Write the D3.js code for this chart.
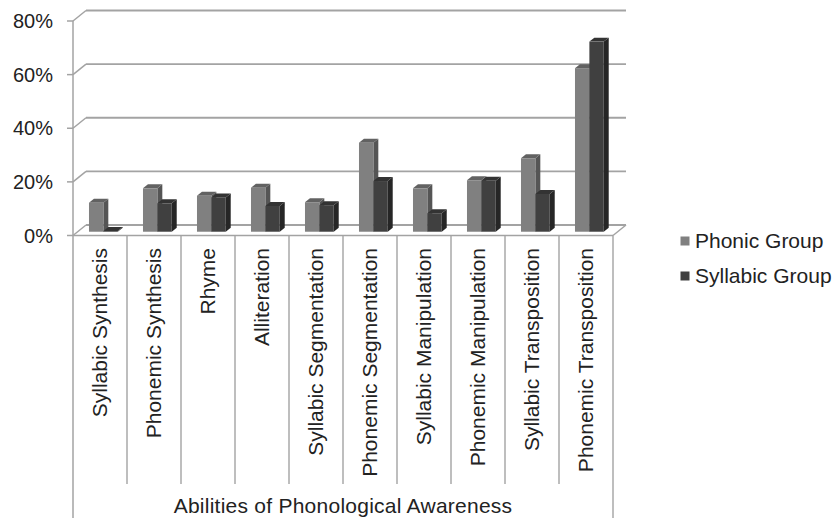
<!DOCTYPE html>
<html>
<head>
<meta charset="utf-8">
<script src="https://cdn.jsdelivr.net/npm/d3@7"></script>
<style>
  html, body { margin: 0; padding: 0; background: #fff; }
  svg { display: block; font-family: "Liberation Sans", Arial, sans-serif; }
</style>
</head>
<body>
<svg id="chart" width="834" height="518"></svg>
<script>
// Abilities of phonological awareness, share of each group (%)
const categories = [
  "Syllabic Synthesis", "Phonemic Synthesis", "Rhyme", "Alliteration",
  "Syllabic Segmentation", "Phonemic Segmentation", "Syllabic Manipulation",
  "Phonemic Manipulation", "Syllabic Transposition", "Phonemic Transposition"
];
const seriesNames = ["Phonic Group", "Syllabic Group"];
const phonicValues   = [10.8, 16.2, 13.4, 16.4, 11.0, 33.2, 16.2, 19.2, 27.4, 61.0];
const syllabicValues = [0,    10.6, 12.8,  9.6,  9.9, 18.9,  6.9, 19.0, 14.1, 70.9];
const yTicks = [0, 20, 40, 60, 80];
const axisTitle = "Abilities of Phonological Awareness";

const seriesValues = [phonicValues, syllabicValues];

// face colours per series: front, top, side
const faceColors = [
  { front: "#808080", top: "#626262", side: "#555555" },
  { front: "#404040", top: "#333333", side: "#262626" }
];

const svg = d3.select("#chart");

// plot frame (front plane) and oblique depth offset
const left = 73, right = 613;
const DX = 13, DY = -10.5;

const x = d3.scaleBand().domain(categories).range([left, right]).paddingInner(0).paddingOuter(0);
const y = d3.scaleLinear().domain([0, 80]).range([235.5, 21]);
const xs = d3.scaleBand().domain(seriesNames).range([0, 28.8]);

const gridColor = "#a3a3a3";
const g = svg.append("g");

// back wall gridlines with their diagonal connectors to the value axis
yTicks.forEach(t => {
  const yy = y(t);
  g.append("line")
    .attr("x1", left + DX).attr("x2", right + DX)
    .attr("y1", yy + DY).attr("y2", yy + DY)
    .attr("stroke", gridColor).attr("stroke-width", 1.8);
  g.append("line")
    .attr("x1", left).attr("y1", yy)
    .attr("x2", left + DX).attr("y2", yy + DY)
    .attr("stroke", gridColor).attr("stroke-width", 1.5);
  // tick mark
  g.append("line")
    .attr("x1", left - 6).attr("x2", left)
    .attr("y1", yy).attr("y2", yy)
    .attr("stroke", gridColor).attr("stroke-width", 1.5);
  // tick label
  g.append("text")
    .attr("x", 53).attr("y", yy).attr("dy", "0.35em")
    .attr("text-anchor", "end")
    .attr("font-size", 20).attr("fill", "#222")
    .text(t + "%");
});

// floor: front edge and right side
g.append("line")
  .attr("x1", left).attr("x2", right)
  .attr("y1", y(0)).attr("y2", y(0))
  .attr("stroke", gridColor).attr("stroke-width", 1.5);
g.append("line")
  .attr("x1", right).attr("y1", y(0))
  .attr("x2", right + DX).attr("y2", y(0) + DY)
  .attr("stroke", gridColor).attr("stroke-width", 1.5);

// value axis line, continuing down as the left border of the category table
g.append("line")
  .attr("x1", left).attr("x2", left)
  .attr("y1", y(80)).attr("y2", 518)
  .attr("stroke", gridColor).attr("stroke-width", 1.5);

// category table: dividers and right border
categories.forEach((c, i) => {
  const xe = x(c) + x.bandwidth();
  g.append("line")
    .attr("x1", xe).attr("x2", xe)
    .attr("y1", y(0)).attr("y2", i === categories.length - 1 ? 518 : 484)
    .attr("stroke", gridColor).attr("stroke-width", 1.4);
});

// category labels, rotated and hung from the top of the table
categories.forEach(c => {
  const cx = x(c) + x.bandwidth() / 2;
  g.append("text")
    .attr("transform", `translate(${cx},248) rotate(-90)`)
    .attr("dy", "0.35em")
    .attr("text-anchor", "end")
    .attr("font-size", 21).attr("fill", "#222")
    .text(c);
});

// axis title
g.append("text")
  .attr("x", (left + right) / 2).attr("y", 513)
  .attr("text-anchor", "middle")
  .attr("font-size", 21).attr("letter-spacing", 0.25).attr("fill", "#222")
  .text(axisTitle);

// 3D columns: front face sits partway into the floor depth
const f0 = 0.36, f1 = 0.74;
const ddx = (f1 - f0) * DX, ddy = (f1 - f0) * DY;
const baseY = y(0) + f0 * DY;
const barW = xs.bandwidth();

const bars = svg.append("g");
categories.forEach((c, ci) => {
  seriesNames.forEach((s, si) => {
    const v = seriesValues[si][ci];
    const h = Math.max(y(0) - y(v), 0.8);
    const x0 = x(c) + 11.3 + f0 * DX + xs(s);
    const x1 = x0 + barW;
    const yt = baseY - h;
    const col = faceColors[si];
    const bg = bars.append("g");
    // side face
    bg.append("path")
      .attr("d", `M${x1},${yt}L${x1 + ddx},${yt + ddy}L${x1 + ddx},${baseY + ddy}L${x1},${baseY}Z`)
      .attr("fill", col.side);
    // top face
    bg.append("path")
      .attr("d", `M${x0},${yt}L${x1},${yt}L${x1 + ddx},${yt + ddy}L${x0 + ddx},${yt + ddy}Z`)
      .attr("fill", col.top);
    // front face
    bg.append("rect")
      .attr("x", x0).attr("y", yt)
      .attr("width", barW).attr("height", h)
      .attr("fill", col.front);
  });
});

// legend
const legend = svg.append("g");
seriesNames.forEach((s, i) => {
  const ly = 241 + i * 35;
  legend.append("rect")
    .attr("x", 680.5).attr("y", ly - 4.5)
    .attr("width", 9).attr("height", 9)
    .attr("fill", faceColors[i].front);
  legend.append("text")
    .attr("x", 695).attr("y", ly).attr("dy", "0.35em")
    .attr("font-size", 21).attr("fill", "#222")
    .text(s);
});
</script>
</body>
</html>
